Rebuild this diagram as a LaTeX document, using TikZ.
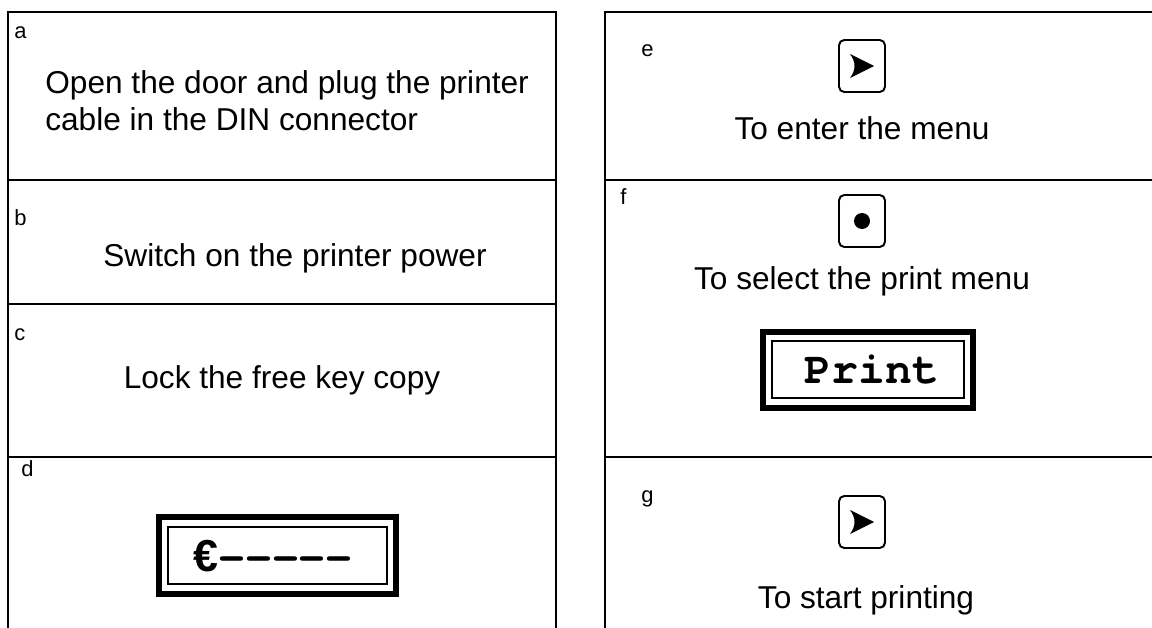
\documentclass[tikz,border=0pt]{standalone}
\usepackage{fontspec}
\setmainfont{Liberation Sans}
\newfontfamily\lcdfont{texgyrecursor-bold.otf}
\usepackage{tikz}
\usetikzlibrary{positioning}

\begin{document}
\begin{tikzpicture}[x=0.02cm,y=-0.02cm,
  panel/.style={line width=1.1pt,draw=black},
  steptext/.style={font=\fontsize{18}{21}\selectfont,inner sep=0pt},
  letter/.style={font=\fontsize{12.5}{15}\selectfont,inner sep=0pt,anchor=base west},
  keybox/.style={draw,line width=1.1pt,rounded corners=3pt,minimum width=0.92cm,minimum height=1.04cm,inner sep=0pt},
  lcdtext/.style={font=\lcdfont\fontsize{25.5}{28}\selectfont,inner sep=0pt}]
\useasboundingbox (0,0) rectangle (1152,628);

% Left column
\draw[panel] (8,628) -- (8,12) -- (556,12) -- (556,628);
\foreach \y in {180,304,457} {
  \draw[panel] (8,\y) -- (556,\y);
}

% Right column
\draw[panel] (605,628) -- (605,12) -- (1152,12);
\foreach \y in {180,457} {
  \draw[panel] (605,\y) -- (1152,\y);
}

% Step letters
\foreach \name/\x/\y in {a/14/39,b/14/226,c/14/340,d/21/476,e/641/57,f/620/205,g/641/502} {
  \node[letter] (lab\name) at (\x,\y) {\name};
}

% Step texts
\node[steptext,anchor=west,align=left] (stepa) at (45,101) {Open the door and plug the printer\\cable in the DIN connector};
\node[steptext] (stepb) at (295,258) {Switch on the printer power};
\node[steptext] (stepc) at (282,380) {Lock the free key copy};
\node[steptext] (stepe) at (862,128) {To enter the menu};
\node[steptext] (stepf) at (862,281) {To select the print menu};
\node[steptext] (stepg) at (866,600) {To start printing};

% Keys
\foreach \k/\y in {keye/66,keyg/522} {
  \node[keybox] (\k) at (862,\y) {};
  \fill[shift={(\k.center)}] (12,0) -- (-12,-12) .. controls (-6,-4) and (-6,4) .. (-12,12) -- cycle;
}
\node[keybox] (keyf) at (862,221) {};
\fill (keyf.center) circle[radius=8];

% Displays
\draw[line width=3.4pt] (763,332) rectangle (973,408);
\draw[line width=0.6pt] (772,341) rectangle (964,398);
\node[lcdtext] (lcdprint) at (872,370) {Print};

\draw[line width=3.4pt] (159,517) rectangle (396,594);
\draw[line width=0.6pt] (168,527) rectangle (387,584);
\node[lcdtext] (lcdeuro) at (273,556) {{\normalfont\bfseries €}-{}-{}-{}-{}-};
\end{tikzpicture}
\end{document}
